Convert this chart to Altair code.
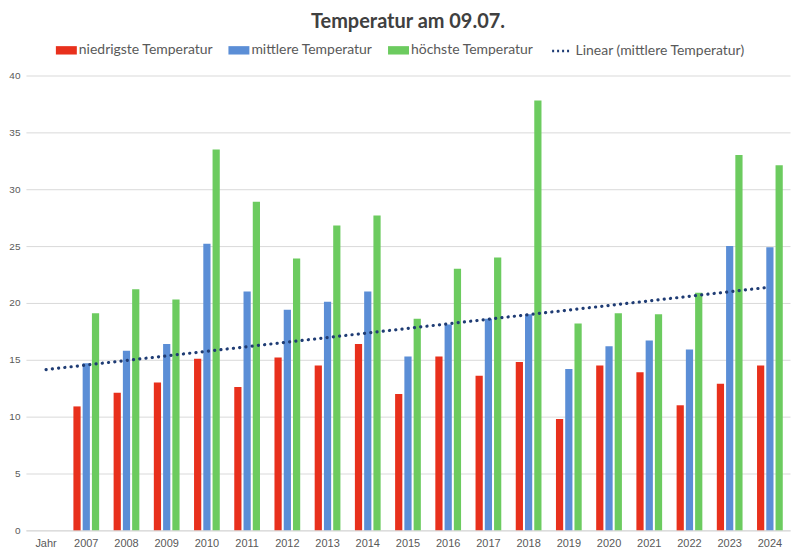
import altair as alt
import pandas as pd
import numpy as np

years = ["2007", "2008", "2009", "2010", "2011", "2012", "2013", "2014", "2015",
         "2016", "2017", "2018", "2019", "2020", "2021", "2022", "2023", "2024"]
categories = ["Jahr"] + years
series_names = ["niedrigste Temperatur", "mittlere Temperatur", "höchste Temperatur"]
low = [10.9, 12.1, 13.0, 15.1, 12.6, 15.2, 14.5, 16.4, 12.0, 15.3, 13.6, 14.8, 9.8, 14.5, 13.9, 11.0, 12.9, 14.5]
mean = [14.7, 15.8, 16.4, 25.2, 21.0, 19.4, 20.1, 21.0, 15.3, 18.1, 18.6, 19.0, 14.2, 16.2, 16.7, 15.9, 25.0, 24.9]
high = [19.1, 21.2, 20.3, 33.5, 28.9, 23.9, 26.8, 27.7, 18.6, 23.0, 24.0, 37.8, 18.2, 19.1, 19.0, 20.9, 33.0, 32.1]
colors = ["#E8301C", "#5B8ED6", "#6CCB5F"]
trend_name = "Linear (mittlere Temperatur)"
trend_color = "#1F3C74"

rows = []
for i, y in enumerate(years):
    for s, vals in zip(series_names, [low, mean, high]):
        rows.append({"Kategorie": y, "Serie": s, "Wert": vals[i]})
df = pd.DataFrame(rows)

# Excel-style linear trendline over all categories (the empty "Jahr" slot counts as 0)
xs = np.arange(1, len(categories) + 1)
ys = np.array([0.0] + mean)
slope, intercept = np.polyfit(xs, ys, 1)
trend = pd.DataFrame({"Kategorie": categories, "Wert": slope * xs + intercept, "Serie": trend_name})

FONT_N = "Lato"
xscale = alt.Scale(domain=categories, paddingInner=0.36, paddingOuter=0.18)

bars = alt.Chart(df).mark_bar().encode(
    x=alt.X("Kategorie:N", scale=xscale, sort=categories,
            axis=alt.Axis(title=None, labelAngle=0, domainColor="#D9D9D9", ticks=False,
                          labelColor="#595959", labelFontSize=11, labelFont="Liberation Sans",
                          labelPadding=7)),
    xOffset=alt.XOffset("Serie:N", scale=alt.Scale(domain=series_names, paddingInner=0.22)),
    y=alt.Y("Wert:Q", scale=alt.Scale(domain=[0, 40]),
            axis=alt.Axis(title=None, values=list(range(0, 41, 5)), domain=False, ticks=False,
                          gridColor="#D9D9D9", labelColor="#595959", labelFontSize=10,
                          labelFont="Liberation Sans", labelPadding=6)),
    fill=alt.Fill("Serie:N", scale=alt.Scale(domain=series_names, range=colors),
                  legend=alt.Legend(title=None, orient="none", legendX=30, legendY=-36,
                                    direction="horizontal",
                                    symbolType="M-1,-0.4H1V0.4H-1Z", symbolSize=441,
                                    labelFont=FONT_N, labelFontSize=14, labelColor="#595959",
                                    columnPadding=15, labelOffset=2, symbolStrokeWidth=0,
                                    labelLimit=300)),
)

line = alt.Chart(trend).mark_line(strokeWidth=3.2, strokeDash=[0.1, 6.2], strokeCap="round").encode(
    x=alt.X("Kategorie:N", scale=xscale, sort=categories),
    y=alt.Y("Wert:Q"),
    stroke=alt.Stroke("Serie:N", scale=alt.Scale(domain=[trend_name], range=[trend_color]),
                      legend=alt.Legend(title=None, orient="none", legendX=526, legendY=-36,
                                        symbolType="stroke",
                                        symbolDash=[2, 3], symbolStrokeWidth=2.5, symbolSize=400,
                                        labelFont=FONT_N, labelFontSize=14, labelColor="#595959",
                                        labelOffset=2, labelLimit=300)),
)

chart = alt.layer(bars, line).properties(
    width=766, height=456,
    padding={"left": 0, "right": 2, "top": 3, "bottom": 2},
    title=alt.Title("Temperatur am 09.07.", font=FONT_N, fontSize=20, fontWeight="bold",
                    color="#404040", anchor="middle", offset=8),
).configure_view(stroke=None)

chart.save("out.html", embed_options={"renderer": "svg", "actions": False})
